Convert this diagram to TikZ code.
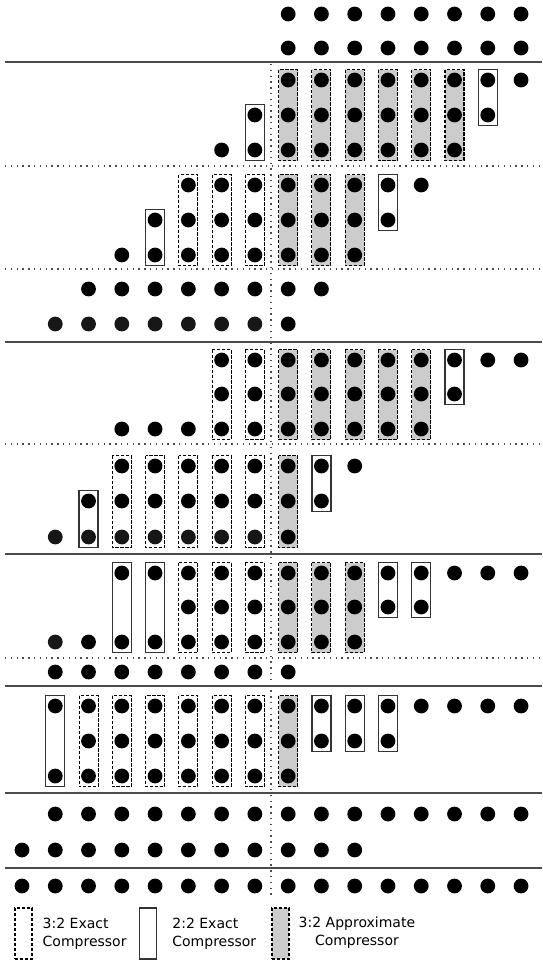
\documentclass[tikz,border=0pt]{standalone}
\usepackage{fontspec}
\setmainfont{DejaVu Sans}
\usepackage{tikz}
\usetikzlibrary{positioning}
\tikzset{
  bit/.style={fill=black},
  bitdim/.style={fill=black!91},
  exactbox/.style={draw=black, line width=1.05pt, dash pattern=on 3.2pt off 1.8pt},
  halfbox/.style={draw=black!80, line width=1.4pt},
  approxbox/.style={draw=black, fill=black!20, line width=1.05pt, dash pattern=on 3.2pt off 1.8pt},
  stageline/.style={draw=black!70, line width=1.6pt},
  splitline/.style={draw=black!70, line width=1.3pt, dash pattern=on 1.3pt off 4.5pt},
  legendkey/.style={inner sep=0pt, minimum width=17pt, minimum height=51pt},
  legendtext/.style={font=\fontsize{14}{18}\selectfont, inner sep=0pt}
}
% dots of one row: [style]{y}{columns}
\newcommand{\bits}[3][bit]{\foreach \c in {#3} \fill[#1] ({22+33.27*\c},#2) circle[radius=7.4pt];}
% compressor boxes: {style}{columns}{top row}{bottom row}
\newcommand{\cbox}[4]{\foreach \c in {#2} \draw[#1] ({22+33.27*\c-9.5},#3-10.5) rectangle ({22+33.27*\c+9.5},#4+10.5);}

\begin{document}
\begin{tikzpicture}[x=1pt, y=-1pt]
  \useasboundingbox (0,0) rectangle (542,961);

  \bits{14}{8,...,15}
  \bits{48}{8,...,15}
  \draw[stageline] (5,62) -- (542,62);

  \cbox{approxbox}{8,...,13}{80}{150}
  \cbox{halfbox}{7}{115}{150}
  \cbox{halfbox}{14}{80}{115}
  \bits{80}{8,...,15}
  \bits{115}{7,...,14}
  \bits{150}{6,...,13}
  \draw[splitline] (5,166) -- (542,166);

  \cbox{exactbox}{5,6,7}{185}{255}
  \cbox{approxbox}{8,9,10}{185}{255}
  \cbox{halfbox}{4}{220}{255}
  \cbox{halfbox}{11}{185}{220}
  \bits{185}{5,...,12}
  \bits{220}{4,...,11}
  \bits{255}{3,...,10}
  \draw[splitline] (5,269) -- (542,269);

  \bits{289}{2,...,9}
  \bits[bitdim]{324}{1,...,7}
  \bits{324}{8}
  \draw[stageline] (5,342) -- (542,342);

  \cbox{exactbox}{6,7}{360}{429}
  \cbox{approxbox}{8,...,12}{360}{429}
  \cbox{halfbox}{13}{360}{394}
  \bits{360}{6,...,15}
  \bits{394}{6,...,13}
  \bits{429}{3,...,12}
  \draw[splitline] (5,444) -- (542,444);

  \cbox{exactbox}{3,...,7}{466}{537}
  \cbox{approxbox}{8}{466}{537}
  \cbox{halfbox}{2}{501}{537}
  \cbox{halfbox}{9}{466}{501}
  \bits{466}{3,...,10}
  \bits{501}{2,...,9}
  \bits[bitdim]{537}{1,...,7}
  \bits{537}{8}
  \draw[stageline] (5,554) -- (542,554);

  \cbox{halfbox}{3,4}{573}{642}
  \cbox{exactbox}{5,6,7}{573}{642}
  \cbox{approxbox}{8,9,10}{573}{642}
  \cbox{halfbox}{11,12}{573}{607}
  \bits{573}{3,...,15}
  \bits{607}{5,...,12}
  \bits[bitdim]{642}{1}
  \bits{642}{2,...,10}
  \draw[splitline] (5,658) -- (542,658);

  \bits{672}{1,...,8}
  \draw[stageline] (5,686) -- (542,686);

  \cbox{halfbox}{1}{706}{776}
  \cbox{exactbox}{2,...,7}{706}{776}
  \cbox{approxbox}{8}{706}{776}
  \cbox{halfbox}{9,10,11}{706}{741}
  \bits{706}{1,...,15}
  \bits{741}{2,...,11}
  \bits{776}{1,...,8}
  \draw[stageline] (5,793) -- (542,793);

  \bits{814}{1,...,15}
  \bits{850}{0,...,10}
  \draw[stageline] (5,868) -- (542,868);

  \bits{886}{0,...,15}

  \draw[splitline] (271,64) -- (271,897);

  \node[legendkey, exactbox] (exactkey) at (23.5,933.5) {};
  \node[legendtext, align=left, right=10pt of exactkey] (exactlbl) {3:2 Exact\\Compressor};
  \node[legendkey, halfbox] (halfkey) at (148,933.5) {};
  \node[legendtext, align=left, right=15pt of halfkey] (halflbl) {2:2 Exact\\Compressor};
  \node[legendkey, approxbox] (approxkey) at (280.5,933.5) {};
  \node[legendtext, align=center, right=9pt of approxkey, yshift=1pt] (approxlbl) {3:2 Approximate\\Compressor};
\end{tikzpicture}
\end{document}
